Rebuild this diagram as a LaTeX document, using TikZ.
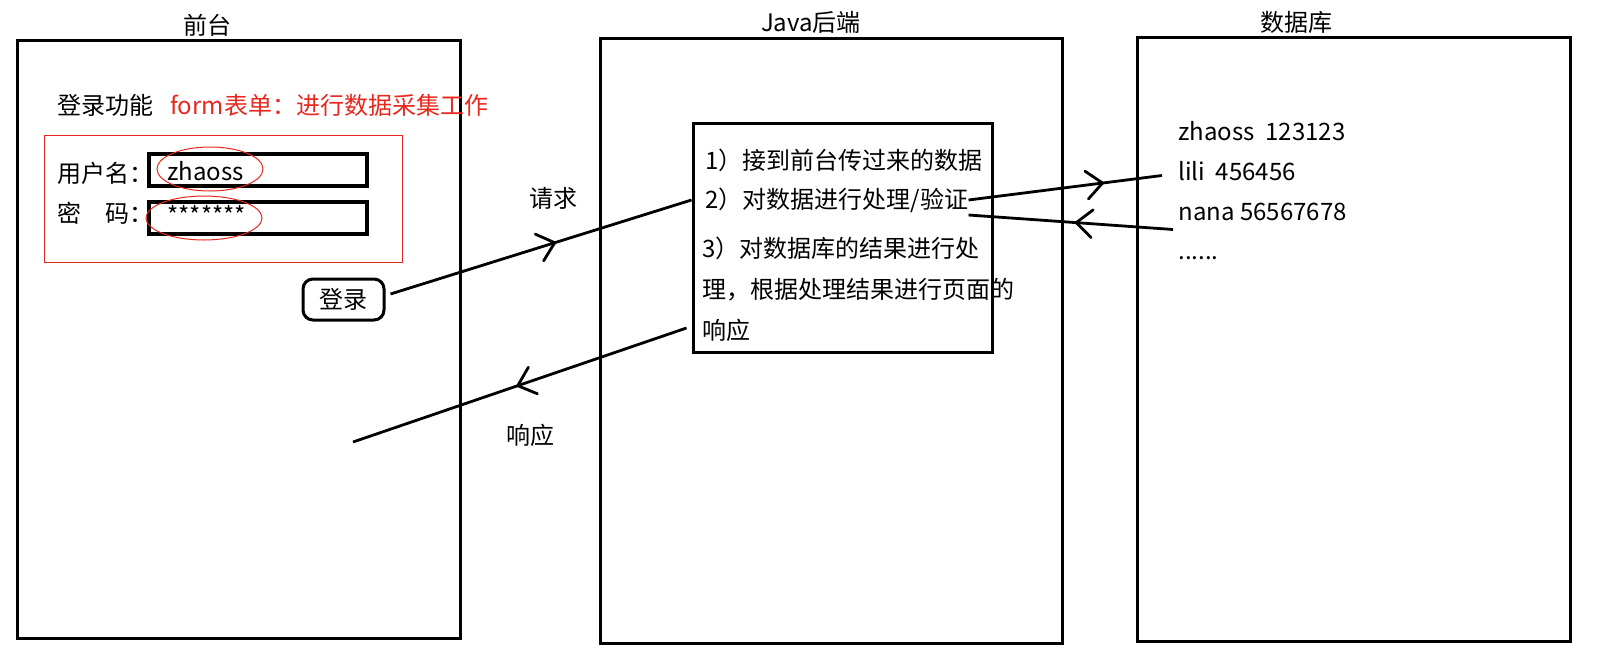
\documentclass[tikz,border=0pt]{standalone}
\usepackage{fontspec}
\setmainfont{Noto Sans CJK SC}
\usetikzlibrary{arrows.meta,decorations.markings,positioning}
\definecolor{formred}{RGB}{232,40,30}

\begin{document}
\begin{tikzpicture}[x=0.5pt, y=-0.5pt, >={Straight Barb[length=8pt,width=14pt,round]},
  every node/.style={font=\fontsize{12pt}{14pt}\selectfont},
  panel/.style={draw, line width=1.5pt, inner sep=0pt},
  txt/.style={inner sep=0pt, anchor=west},
  field/.style={draw, line width=1.6pt, minimum width=109pt, minimum height=16pt, inner sep=0pt},
  conn/.style={line width=1.4pt},
  midarrow/.style={postaction={decorate, decoration={markings, mark=at position #1 with {\arrow{>}}}}}]
	\useasboundingbox (0,0) rectangle (1601,664);
	% the three columns
	\node[panel, minimum width=221.5pt, minimum height=299pt] (front) at (238.5,339) {};
	\node[panel, minimum width=231pt, minimum height=302.5pt] (back) at (831,340.5) {};
	\node[panel, minimum width=216.5pt, minimum height=302pt] (db) at (1353.5,339) {};
	\node (fronttitle) at (207,25) {前台};
	\node (backtitle) at (811,22) {Java后端};
	\node (dbtitle) at (1296,22) {数据库};
	
	% front: login form
	\node[txt] (func) at (57,105) {登录功能};
	\node[txt, text=formred] (formnote) at (170,105) {form表单：进行数据采集工作};
	\node[draw=formred, line width=0.5pt, minimum width=179pt, minimum height=63.5pt] (formbox) at (223,198.5) {};
	\node[txt] (ulabel) at (57,173) {用户名：};
	\node[txt] (plabel) at (57,213) {密　码：};
	\node[field] (uname) at (258,170) {};
	\node[field] (pword) at (258,218) {};
	\node[txt] (unametxt) at (167,171) {zhaoss};
	\node[txt] (pwordtxt) at (167,215) {*******};
	\draw[formred, line width=0.5pt] (210,169) ellipse [x radius=26.5pt, y radius=11pt];
	\draw[formred, line width=0.5pt] (204,218) ellipse [x radius=29pt, y radius=11pt];
	\node[draw, line width=1.5pt, rounded corners=5pt, minimum width=40.5pt, minimum height=20.5pt, inner sep=0pt] (login) at (343.5,299.5) {登录};
	
	% back: processing steps
	\node[panel, minimum width=149.5pt, minimum height=114.5pt] (inner) at (842.5,237.5) {};
	\node[txt] (l1) at (705,160) {1）接到前台传过来的数据};
	\node[txt] (l2) at (705,200) {2）对数据进行处理/验证};
	\node[txt] (l3) at (702,248) {3）对数据库的结果进行处};
	\node[txt] (l4) at (702,290) {理，根据处理结果进行页面的};
	\node[txt] (l5) at (702,330) {响应};
	\node (req) at (553,198) {请求};
	\node (resp) at (530,435) {响应};
	
	% database rows
	\node[txt] (r1) at (1178,131) {zhaoss\ \ 123123};
	\node[txt] (r2) at (1178,171.5) {lili\ \ 456456};
	\node[txt] (r3) at (1178,211.5) {nana 56567678};
	\node[txt] (r4) at (1178,258) {......};
	
	% request / response
	\coordinate (respend) at (353,442);
	\draw[conn, midarrow=0.55] ([xshift=2.5pt,yshift=2.75pt]login.east) -- (inner.west |- l2);
	\draw[conn, midarrow=0.51] ([xshift=-2.5pt,yshift=1pt]inner.west |- l5) -- (respend);
	\draw[conn, midarrow=0.70] (l2.east) -- ([xshift=-8pt,yshift=-2pt]r2.west);
	\draw[conn, midarrow=0.48] ([xshift=-2.5pt,yshift=-9pt]r3.west) -- ([yshift=-7.5pt]l2.east);
	
\end{tikzpicture}
\end{document}
